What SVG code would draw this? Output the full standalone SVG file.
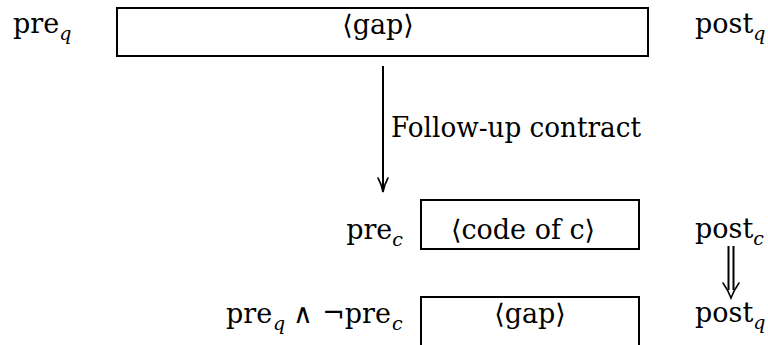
<svg xmlns="http://www.w3.org/2000/svg" width="768" height="345" viewBox="0 0 768 345">
  <style>
    .t { font-family: 'DejaVu Serif', serif; font-size: 27px; fill: #000; }
    .sub { font-family: 'DejaVu Serif', serif; font-style: italic; font-size: 19px; fill: #000; }
    .box { fill: #fff; stroke: #000; stroke-width: 2; }
    .edge { fill: none; stroke: #000; stroke-width: 2; }
    .head { fill: none; stroke: #000; stroke-width: 1.6; stroke-linecap: round; }
  </style>
  <rect width="768" height="345" fill="#fff"/>

  <!-- top row: the unfilled gap between pre_q and post_q -->
  <g id="pre-q">
    <text class="t" x="13" y="33">pre<tspan class="sub" dy="7">q</tspan></text>
  </g>
  <g id="gap-top">
    <rect class="box" x="117" y="8" width="531" height="48"/>
    <text class="t" x="378" y="34" text-anchor="middle">⟨gap⟩</text>
  </g>
  <g id="post-q">
    <text class="t" x="695" y="33">post<tspan class="sub" dy="7">q</tspan></text>
  </g>

  <!-- middle row: the called code c -->
  <g id="pre-c">
    <text class="t" x="403" y="239" text-anchor="end">pre<tspan class="sub" dy="7">c</tspan></text>
  </g>
  <g id="code-c">
    <rect class="box" x="421" y="200" width="218" height="49"/>
    <text class="t" x="523" y="239" text-anchor="middle">⟨code of c⟩</text>
  </g>
  <g id="post-c">
    <text class="t" x="695" y="238">post<tspan class="sub" dy="7">c</tspan></text>
  </g>

  <!-- bottom row: the remaining gap -->
  <g id="pre-rest">
    <text class="t" x="226" y="323">pre</text>
    <text class="sub" x="273" y="330">q</text>
    <text class="t" x="293" y="323">∧</text>
    <text class="t" x="391" y="323" text-anchor="end">¬pre</text>
    <text class="sub" x="392" y="330">c</text>
  </g>
  <g id="gap-bottom">
    <rect class="box" x="421" y="297" width="218" height="60"/>
    <text class="t" x="530" y="323" text-anchor="middle">⟨gap⟩</text>
  </g>
  <g id="post-q-bottom">
    <text class="t" x="695" y="322">post<tspan class="sub" dy="7">q</tspan></text>
  </g>

  <!-- connectors -->
  <g id="connectors">
    <!-- follow-up contract arrow -->
    <line class="edge" x1="383" y1="66" x2="383" y2="191"/>
    <path class="head" d="M378 178 Q381.5 184 383 192 Q384.5 184 388 178"/>
    <text class="t" x="391" y="137" textLength="250" lengthAdjust="spacingAndGlyphs">Follow-up contract</text>

    <!-- implication post_c ⇒ post_q -->
    <line class="edge" x1="728.5" y1="246" x2="728.5" y2="290" stroke-width="1.6"/>
    <line class="edge" x1="733.5" y1="246" x2="733.5" y2="290" stroke-width="1.6"/>
    <path class="head" d="M723 283 Q728 290 731 298 Q734 290 739 283"/>
  </g>
</svg>
